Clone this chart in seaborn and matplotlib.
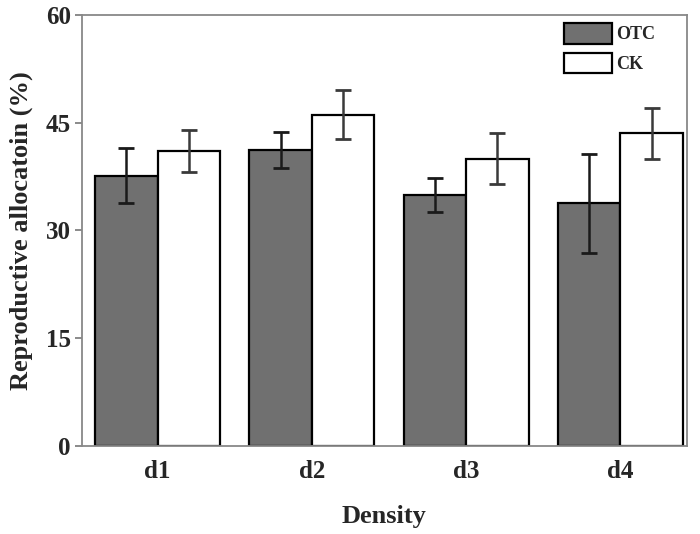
import numpy as np
import pandas as pd
import matplotlib
matplotlib.use("Agg")
import matplotlib.pyplot as plt
import seaborn as sns
from matplotlib.patches import Patch

density = ["d1", "d2", "d3", "d4"]
otc_mean = [37.6, 41.2, 34.9, 33.8]
otc_err = [3.85, 2.5, 2.35, 6.9]
ck_mean = [41.1, 46.1, 40.0, 43.5]
ck_err = [2.9, 3.4, 3.55, 3.6]
yticks = [0, 15, 30, 45, 60]


def main():
    df = pd.DataFrame({
        "Density": density * 2,
        "Treatment": ["OTC"] * 4 + ["CK"] * 4,
        "value": otc_mean + ck_mean,
    })

    sns.set_style("ticks")
    plt.rcParams["font.family"] = ["Liberation Serif", "DejaVu Serif"]
    plt.rcParams["font.weight"] = "bold"

    fig, ax = plt.subplots(figsize=(7, 5.34), dpi=100)
    fig.subplots_adjust(left=0.117, right=0.981, top=0.972, bottom=0.165)

    sns.barplot(data=df, x="Density", y="value", hue="Treatment",
                palette={"OTC": "#707070", "CK": "white"}, saturation=1,
                width=0.81, edgecolor="black", linewidth=1.6,
                errorbar=None, ax=ax)

    # error bars on top of each bar
    for cont, errs, col in zip(ax.containers, [otc_err, ck_err], ["#1a1a1a", "#3a3a3a"]):
        xs = [b.get_x() + b.get_width() / 2 for b in cont]
        ys = [b.get_height() for b in cont]
        ax.errorbar(xs, ys, yerr=errs, fmt="none", ecolor=col,
                    elinewidth=1.8, capsize=6, capthick=2, zorder=5)

    ax.get_legend().remove()
    handles = [Patch(facecolor="#707070", edgecolor="black", linewidth=1.6, label="OTC"),
               Patch(facecolor="white", edgecolor="black", linewidth=1.6, label="CK")]
    ax.legend(handles=handles, loc="upper left", bbox_to_anchor=(0.777, 1.01),
              frameon=False, prop={"weight": "bold", "size": 13},
              handlelength=2.65, handleheight=1.35, handletextpad=0.2,
              labelspacing=0.5, borderpad=0.2)

    ax.set_xlim(-0.49, 3.43)
    ax.set_ylim(0, 60)
    ax.set_yticks(yticks)
    ax.set_yticklabels([str(t) for t in yticks], fontsize=18, fontweight="bold")
    ax.set_xticks(range(4))
    ax.set_xticklabels(density, fontsize=18, fontweight="bold")
    ax.tick_params(axis="x", length=0, pad=10)
    ax.tick_params(axis="y", length=5, width=1.2, color="#777777", pad=3)

    for s in ax.spines.values():
        s.set_visible(True)
        s.set_color("#888888")
        s.set_linewidth(1.3)

    ax.set_xlabel("Density", fontsize=19, fontweight="bold", labelpad=16)
    ax.set_ylabel("Reproductive allocatoin (%)", fontsize=19, fontweight="bold", labelpad=9)

    fig.savefig("out.png", dpi=100)


if __name__ == "__main__":
    main()
